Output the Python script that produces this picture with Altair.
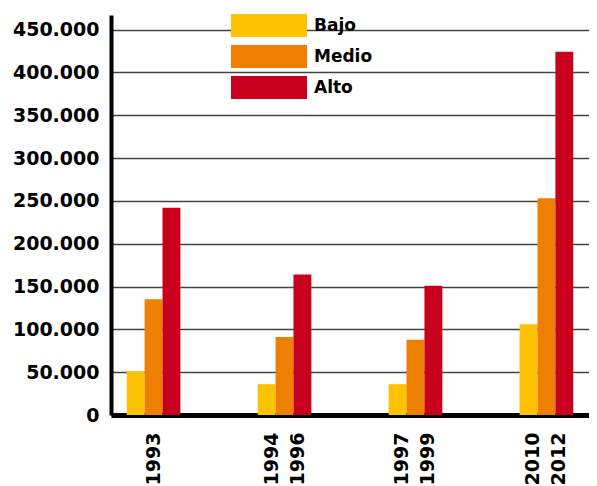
import altair as alt
import pandas as pd

periods = ["1993", "1994\n1996", "1997\n1999", "2010\n2012"]
levels = ["Bajo", "Medio", "Alto"]
bajo = [51000, 36000, 36000, 106000]
medio = [135000, 91000, 88000, 253000]
alto = [242000, 164000, 151000, 424000]
colors = ["#FDC300", "#EE7F00", "#C8001E"]

rows = []
for i, p in enumerate(periods):
    for lev, vals in zip(levels, [bajo, medio, alto]):
        rows.append({"periodo": p, "nivel": lev, "valor": vals[i]})
df = pd.DataFrame(rows)

font = "DejaVu Sans"

chart = alt.Chart(df).mark_bar().encode(
    x=alt.X("periodo:N", sort=periods, title=None,
            scale=alt.Scale(paddingInner=0.59, paddingOuter=0.12),
            axis=alt.Axis(labelAngle=270, labelExpr="split(datum.label, '\\n')",
                          labelFontSize=19, labelFont=font, labelFontWeight="bold",
                          labelColor="black", labelPadding=17, labelLineHeight=26,
                          labelOffset={"condition": {"test": "length(datum.value) > 4", "value": -13}, "value": 0},
                          ticks=False, domainColor="black", domainWidth=5, grid=False)),
    xOffset=alt.XOffset("nivel:N", sort=levels, scale=alt.Scale(paddingInner=0, paddingOuter=0)),
    y=alt.Y("valor:Q", title=None,
            scale=alt.Scale(domain=[0, 467000], nice=False),
            axis=alt.Axis(values=[0, 50000, 100000, 150000, 200000, 250000, 300000, 350000, 400000, 450000],
                          labelExpr="replace(format(datum.value, ','), ',', '.')",
                          labelFontSize=19, labelFont=font, labelFontWeight="bold",
                          labelColor="black", labelPadding=12, ticks=False,
                          domainColor="black", domainWidth=4,
                          gridColor="#444444", gridWidth=1.5)),
    color=alt.Color("nivel:N", sort=levels, scale=alt.Scale(domain=levels, range=colors),
                    legend=alt.Legend(title=None, orient="none", legendX=146.5, legendY=-1,
                                      symbolType="M-3.304,-1H3.304V1H-3.304Z", symbolSize=529,
                                      symbolStrokeWidth=0, symbolOpacity=1,
                                      labelFontSize=17, labelFont=font, labelFontWeight="bold",
                                      labelColor="black", labelOffset=33.5, rowPadding=8)),
).properties(
    width=478, height=400,
    autosize=alt.AutoSizeParams(type="none"),
    padding={"left": 103, "top": 7, "right": 0, "bottom": 71},
).configure_view(stroke=None)

chart.save("out.html", embed_options={"renderer": "svg", "actions": False})
